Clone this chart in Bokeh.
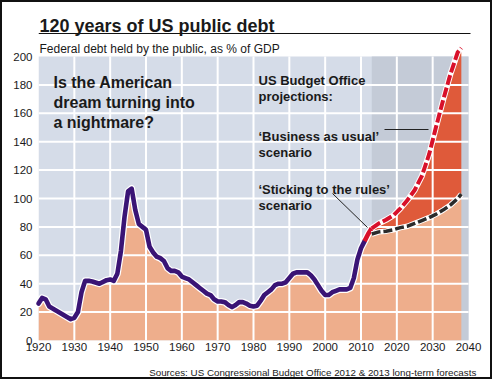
from bokeh.plotting import figure
from bokeh.layouts import column
from bokeh.models import (FixedTicker, Range1d, BoxAnnotation, GlobalInlineStyleSheet)
from bokeh.core.properties import value
from bokeh.embed import file_html
from bokeh.resources import INLINE

# ---------------- data ----------------
hist_years = [1920, 1921, 1922, 1923, 1929, 1930, 1931, 1932, 1933, 1934, 1935,
              1937, 1939, 1940, 1941, 1942, 1943, 1944, 1945, 1946, 1947, 1948,
              1949, 1950, 1951, 1952, 1953, 1954, 1955, 1956, 1957, 1958, 1959,
              1960, 1961, 1962, 1963, 1964, 1965, 1966, 1967, 1968, 1969, 1970,
              1971, 1972, 1973, 1974, 1975, 1976, 1977, 1978, 1979, 1980, 1981,
              1982, 1983, 1984, 1985, 1986, 1987, 1988, 1989, 1990, 1991, 1992,
              1993, 1994, 1995, 1996, 1997, 1998, 1999, 2000, 2001, 2002, 2003,
              2004, 2005, 2006, 2007, 2008, 2009, 2010, 2011]
hist_debt = [26, 30, 29, 24, 15, 16, 20, 34, 42, 42, 41.5,
             40, 42.5, 43, 42, 47, 63, 87, 105, 107, 92, 82,
             80, 78, 66, 62, 59, 58, 56, 51, 49, 49, 48,
             45, 44, 43, 41, 39, 37, 35, 33, 32, 29, 27.5,
             27.5, 27, 25, 23.5, 25, 27, 27, 26, 24.5, 24, 24.5,
             28, 32, 34, 36, 39, 40, 40, 41, 44, 47, 48,
             48, 48, 48, 46, 43, 39, 35, 32, 32, 34, 35,
             36, 36, 36, 37, 44, 57, 65, 70]
bridge_years = [2011, 2012, 2013]
bridge_debt = [70, 75, 79]
proj_years = [2013, 2015, 2017, 2019, 2021, 2023, 2025, 2027, 2029, 2031, 2033,
              2035, 2037, 2038]
proj_rules = [75, 76.5, 77, 78, 79.5, 80.5, 82.5, 84.5, 86.5, 89, 92, 95.5, 100, 103]
proj_usual = [79, 82.5, 85, 88, 93, 99, 106, 116, 131, 151, 170, 188, 203, 206]
forecast_start = 2013
x_ticks = [1920, 1930, 1940, 1950, 1960, 1970, 1980, 1990, 2000, 2010, 2020, 2030, 2040]
y_ticks = [0, 20, 40, 60, 80, 100, 120, 140, 160, 180, 200]

TITLE = "120 years of US public debt"
SUBTITLE = "Federal debt held by the public, as % of GDP"
SOURCE = "Sources: US Congressional Budget Office 2012 & 2013 long-term forecasts"

# ---------------- colours / fonts ----------------
BG = "#d5dce8"
FC = "#c4cbd7"
SALMON = "#eeae8c"
REDAREA = "#df5a3a"
REDLINE = "#d8102a"
DARK = "#2b2b2b"
PURPLE = "#3a1475"
TXT = "#1a1a1a"
FONT = "Liberation Sans"

# image-pixel layout helpers (plot area: x 38..468, y 56..340 in image pixels)
def X(px):
    return 1920 + (px - 38) * 120.0 / 430.0

def Y(py):
    return (340 - py) * 200.0 / 284.0

MAIN_H = 356
p = figure(width=488, height=MAIN_H, output_backend="svg", toolbar_location=None,
           x_range=Range1d(X(38), X(484)), y_range=Range1d(Y(340), Y(2)),
           min_border_left=36, min_border_right=6, min_border_top=0,
           min_border_bottom=18)
p.background_fill_color = "white"
p.border_fill_color = "white"
p.outline_line_color = None
p.grid.visible = False

# plot area + forecast shading
p.add_layout(BoxAnnotation(left=x_ticks[0], right=x_ticks[-1], bottom=y_ticks[0],
                           top=y_ticks[-1], fill_color=BG, fill_alpha=1.0,
                           line_color=None, level="image"))
p.add_layout(BoxAnnotation(left=forecast_start, right=x_ticks[-1], bottom=y_ticks[0],
                           top=y_ticks[-1], fill_color=FC, fill_alpha=1.0,
                           line_color=None, level="image"))

# fills
sal_x = hist_years + bridge_years[1:] + proj_years[1:]
sal_y = hist_debt + bridge_debt[1:] + proj_rules[1:]
r = p.varea(x=sal_x, y1=[0] * len(sal_x), y2=sal_y, fill_color=SALMON)
r.level = "underlay"
r = p.varea(x=proj_years, y1=proj_rules, y2=proj_usual, fill_color=REDAREA)
r.level = "underlay"

# white grid (on top of the fills, bounded to the plot area)
gx = x_ticks[1:-1]
gy = y_ticks[1:-1]
p.segment(x0=gx, y0=[y_ticks[0]] * len(gx), x1=gx, y1=[y_ticks[-1]] * len(gx),
          line_color="white", line_width=2)
p.segment(x0=[x_ticks[0]] * len(gy), y0=gy, x1=[x_ticks[-1]] * len(gy), y1=gy,
          line_color="white", line_width=2)

# lines
def add(r):
    r.level = "annotation"

add(p.line(hist_years, hist_debt, line_color="white", line_width=7,
           line_join="round", line_cap="round"))
add(p.line(bridge_years, bridge_debt, line_color="white", line_width=7,
           line_join="round"))
add(p.line(hist_years, hist_debt, line_color=PURPLE, line_width=4.6,
           line_join="round", line_cap="round"))
add(p.line(bridge_years, bridge_debt, line_color=REDLINE, line_width=4.6,
           line_join="round"))
add(p.line(proj_years, proj_rules, line_color="white", line_width=5.5,
           line_join="round"))
add(p.line(proj_years, proj_rules, line_color=DARK, line_width=3.5,
           line_dash="9 3", line_join="round"))
add(p.line(proj_years, proj_usual, line_color="white", line_width=6,
           line_join="round"))
add(p.line(proj_years, proj_usual, line_color=REDLINE, line_width=4,
           line_dash="10 3", line_join="round"))

# axes
p.xaxis.ticker = FixedTicker(ticks=x_ticks)
p.yaxis.ticker = FixedTicker(ticks=y_ticks)
for ax in (p.xaxis[0], p.yaxis[0]):
    ax.axis_line_color = None
    ax.major_tick_line_color = None
    ax.minor_tick_line_color = None
    ax.major_tick_out = 0
    ax.major_tick_in = 0
    ax.major_label_text_font = FONT
    ax.major_label_text_font_size = "11.5px"
    ax.major_label_text_color = TXT
p.yaxis.major_label_standoff = 6
p.xaxis.major_label_standoff = 2

# texts
def txt(fig, x, y, t, size, bold=False, font=FONT, align="left"):
    r = fig.text(x=[x], y=[y], text=[t], text_font=value(font), text_font_size=size,
                 text_font_style="bold" if bold else "normal", text_color=TXT,
                 text_align=align, text_baseline="alphabetic")
    r.level = "overlay"

txt(p, X(39), Y(25.5), TITLE, "18px", True)
p.segment(x0=[X(38)], y0=[Y(33)], x1=[X(470)], y1=[Y(33)], line_color="#111",
          line_width=1.2)
txt(p, X(39), Y(48.5), SUBTITLE, "12px")

txt(p, X(53), Y(82), "Is the American", "16px", True)
txt(p, X(53), Y(102), "dream turning into", "16px", True)
txt(p, X(53), Y(122), "a nightmare?", "16px", True)

txt(p, X(258), Y(80), "US Budget Office", "13px", True)
txt(p, X(258), Y(96), "projections:", "13px", True)
txt(p, X(258), Y(136), "\u2018Business as usual\u2019", "13px", True)
txt(p, X(258), Y(152), "scenario", "13px", True)
txt(p, X(258), Y(189), "\u2018Sticking to the rules\u2019", "13px", True)
txt(p, X(258), Y(205), "scenario", "13px", True)

r = p.segment(x0=[X(384), X(332)], y0=[Y(129), Y(193)], x1=[X(428), X(367)],
              y1=[Y(129), Y(227)], line_color="#222", line_width=1)
r.level = "overlay"

# footer with the source line
FOOT_H = 375 - MAIN_H
f = figure(width=488, height=FOOT_H, output_backend="svg", toolbar_location=None,
           x_range=Range1d(0, 488), y_range=Range1d(FOOT_H, 0),
           x_axis_type=None, y_axis_type=None,
           min_border_left=0, min_border_right=0, min_border_top=0, min_border_bottom=0)
f.outline_line_color = None
f.grid.visible = False
f.background_fill_color = "white"
f.border_fill_color = "white"
txt(f, 479, 372 - 2 - MAIN_H, SOURCE, "9.8px", False, FONT, "right")

layout = column(p, f, spacing=0, styles={"border": "2px solid #111"})
layout.stylesheets = [GlobalInlineStyleSheet(css="html, body {margin:0; padding:0;}")]

open("out.html", "w").write(file_html(layout, INLINE))
